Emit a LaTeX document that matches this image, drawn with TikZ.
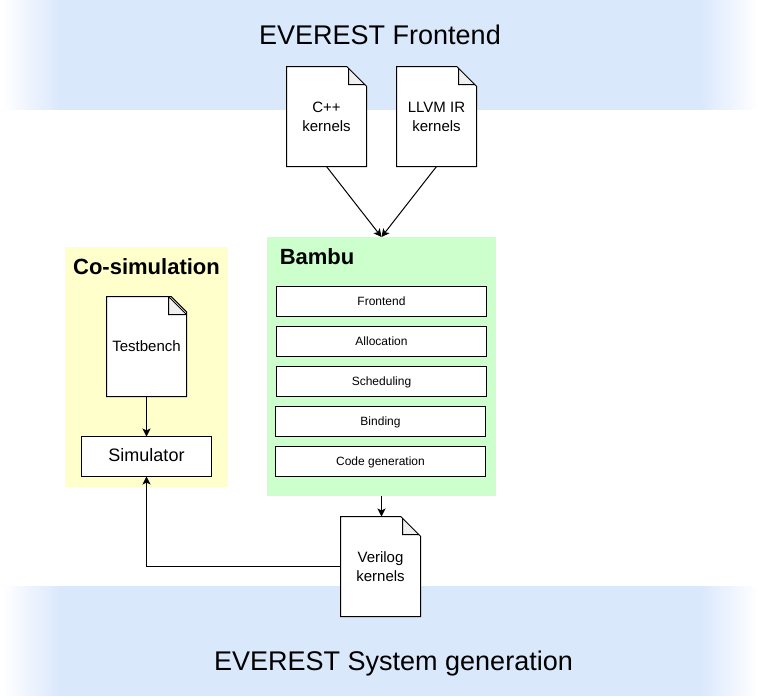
\documentclass[tikz,border=0pt]{standalone}
\usepackage{fontspec}
\setmainfont{Liberation Sans}
\usetikzlibrary{arrows.meta, shapes.misc}

\definecolor{bandblue}{HTML}{DAE8FC}
\definecolor{cosimyellow}{HTML}{FFFFCC}
\definecolor{bambugreen}{HTML}{CCFFCC}
\definecolor{foldgray}{HTML}{F0F0F0}

\tikzset{
	band/.style = {fill = bandblue, draw = none},
	region/.style = {rectangle, inner sep = 0, outer sep = 0},
	notefile/.style = {
		chamfered rectangle, chamfered rectangle corners = north east,
		chamfered rectangle xsep = 7.4pt, chamfered rectangle ysep = 7.4pt,
		draw, fill = white, line width = 0.75pt, inner sep = 0, outer sep = 0,
		minimum width = 60pt, minimum height = 75pt, align = center,
		font = \fontsize{11.25}{14.25}\selectfont,
		path picture = {
			\draw[fill = foldgray, line width = 0.75pt]
				([xshift = -13.5pt]path picture bounding box.north east)
				-- ++(0, -13.5pt) -- ++(13.5pt, 0) -- cycle;
		}
	},
	stepbox/.style = {
		rectangle, draw, fill = white, line width = 0.75pt, inner sep = 0, outer sep = 0,
		minimum width = 157.5pt, minimum height = 22.5pt,
		font = \fontsize{9}{10}\selectfont, text height = 8.1pt, text depth = 1.6pt
	},
	bandlabel/.style = {font = \fontsize{20.25}{24}\selectfont, inner sep = 0},
	regionlabel/.style = {font = \fontsize{16.5}{20}\selectfont\bfseries, inner sep = 0},
	flow/.style = {-{Stealth[length = 6pt, width = 6pt, inset = 1.5pt]}, line width = 0.75pt}
}

\begin{document}
\begin{tikzpicture}[x = 0.75pt, y = -0.75pt]
	%	page
	\useasboundingbox (0, 0) rectangle (760, 696);
	
	%	bands
	\def\bandl{60}
	\def\bandr{700}
	\foreach \ya/\yb in {0/110, 586/696} {
		\fill[band] (\bandl, \ya) rectangle (\bandr, \yb);
		\shade[left color = white, right color = bandblue, draw = none] (2, \ya) rectangle (\bandl, \yb - 1);
		\shade[left color = bandblue, right color = white, draw = none] (\bandr, \ya) rectangle (758, \yb - 1);
	}
	\node[bandlabel] (frontendlabel) at (380, 35) {EVEREST Frontend};
	\node[bandlabel] (systemlabel) at (393.5, 663.5) {EVEREST System generation};
	
	%	regions
	\node[region, fill = cosimyellow, minimum width = 122.25pt, minimum height = 180pt] (cosim) at (146.5, 367) {};
	\node[region, fill = bambugreen, minimum width = 171.75pt, minimum height = 194.25pt] (bambu) at (381.5, 366.5) {};
	\node[regionlabel] (cosimlabel) at (146.5, 266.5) {Co-simulation};
	\node[regionlabel, anchor = west] (bambulabel) at (279.5, 256.5) {Bambu};
	
	%	files
	\node[notefile] (cpp) at (326.5, 116.5) {C++\\kernels};
	\node[notefile] (llvm) at (436.5, 116.5) {LLVM IR\\kernels};
	\node[notefile] (testbench) at (146.5, 346.5) {Testbench};
	\node[notefile] (verilog) at (380.5, 566.5) {Verilog\\kernels};
	
	%	simulator
	\node[stepbox, minimum width = 97.5pt, minimum height = 30pt, font = \fontsize{13.5}{16}\selectfont, text height = 10pt, text depth = 3pt] (simulator) at (146.5, 456.5) {Simulator};
	
	%	steps
	\node[stepbox] (frontend) at (381.5, 301.5) {Frontend};
	\node[stepbox] (allocation) at (381.5, 341.5) {Allocation};
	\node[stepbox] (scheduling) at (381.5, 381.5) {Scheduling};
	\node[stepbox] (binding) at (380.5, 421.5) {Binding};
	\node[stepbox] (codegen) at (380.5, 461.5) {Code generation};
	
	%	arrows
	\draw[flow] (cpp.south) -- (bambu.north);
	\draw[flow] (llvm.south) -- (bambu.north);
	\draw[flow] (testbench.south) -- (simulator.north);
	\draw[flow] (bambu.south) -- (bambu.south |- verilog.north);
	\draw[flow] (verilog.west) -| (simulator.south);
\end{tikzpicture}
\end{document}
